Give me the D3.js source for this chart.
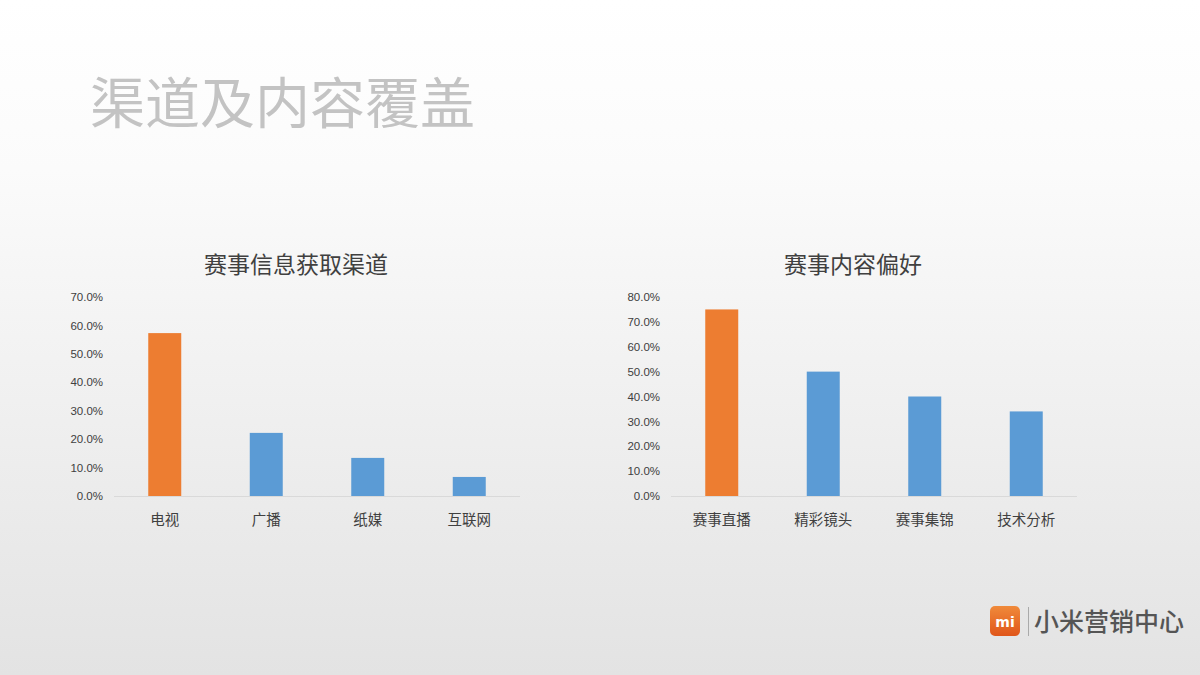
<!DOCTYPE html>
<html><head><meta charset="utf-8">
<script src="https://cdn.jsdelivr.net/npm/d3@7"></script>
<style>html,body{margin:0;padding:0;}svg{display:block;}</style>
</head><body>
<svg id="c" width="1200" height="675"></svg>
<script>
const leftCategories = ["电视","广播","纸媒","互联网"];
const leftValues = [0.573, 0.222, 0.134, 0.067];
const leftTicks = [0,0.1,0.2,0.3,0.4,0.5,0.6,0.7];
const rightCategories = ["赛事直播","精彩镜头","赛事集锦","技术分析"];
const rightValues = [0.75, 0.50, 0.40, 0.34];
const rightTicks = [0,0.1,0.2,0.3,0.4,0.5,0.6,0.7,0.8];
const highlightIndex = 0;

const svg = d3.select("#c");
const FONT = "'Noto Sans CJK SC','Microsoft YaHei',sans-serif";
const defs = svg.append("defs");
const g = defs.append("linearGradient").attr("id","bg").attr("x1",0).attr("y1",0).attr("x2",0).attr("y2",1);
g.append("stop").attr("offset","0").attr("stop-color","#ffffff");
g.append("stop").attr("offset","0.25").attr("stop-color","#fbfbfb");
g.append("stop").attr("offset","1").attr("stop-color","#e3e3e3");
svg.append("rect").attr("width",1200).attr("height",675).attr("fill","url(#bg)");

svg.append("text").attr("x",90).attr("y",123).attr("font-family",FONT).attr("font-size",55)
  .attr("fill","#c3c3c3").text("渠道及内容覆盖");

function chart(opts){
  const {x0,x1,y0,y1,cats,vals,ticks,max,title,titleX,labelX} = opts;
  const x = d3.scaleBand().domain(cats).range([x0,x1]).paddingInner(0.675).paddingOuter(0.3375);
  const y = d3.scaleLinear().domain([0,max]).range([y0,y1]);
  const grp = svg.append("g");
  grp.append("text").attr("x",titleX).attr("y",273).attr("text-anchor","middle")
    .attr("font-family",FONT).attr("font-size",23).attr("fill","#404040").text(title);
  const ya = d3.axisLeft(y).tickValues(ticks).tickFormat(d3.format(".1%")).tickSize(0).tickPadding(0);
  const yg = grp.append("g").attr("transform",`translate(${labelX},0)`).call(ya);
  yg.select(".domain").remove();
  yg.selectAll("text").attr("font-family","'Liberation Sans',Arial,sans-serif").attr("font-size",11.5).attr("fill","#404040");
  grp.selectAll("rect.bar").data(vals).enter().append("rect")
    .attr("x",(d,i)=>x(cats[i])).attr("width",x.bandwidth())
    .attr("y",d=>y(d)).attr("height",d=>y(0)-y(d))
    .attr("fill",(d,i)=>i===highlightIndex?"#ED7D31":"#5B9BD5");
  const xa = d3.axisBottom(x).tickSize(0).tickPadding(19);
  const xg = grp.append("g").attr("transform",`translate(0,${y0})`).call(xa);
  xg.select(".domain").attr("stroke","#d9d9d9").attr("d",`M${x0},0.5H${x1}`);
  xg.selectAll("text").attr("font-family",FONT).attr("font-size",14.5).attr("fill","#404040");
}
chart({x0:114,x1:520,y0:496,y1:297,cats:leftCategories,vals:leftValues,ticks:leftTicks,max:0.7,
  title:"赛事信息获取渠道",titleX:296,labelX:103});
chart({x0:671,x1:1077,y0:496,y1:297,cats:rightCategories,vals:rightValues,ticks:rightTicks,max:0.8,
  title:"赛事内容偏好",titleX:853,labelX:660});

// logo
const lg = svg.append("g");
const og = defs.append("linearGradient").attr("id","og").attr("x1",0).attr("y1",0).attr("x2",0).attr("y2",1);
og.append("stop").attr("offset","0").attr("stop-color","#f08a3a");
og.append("stop").attr("offset","1").attr("stop-color","#e0561a");
lg.append("rect").attr("x",990).attr("y",606).attr("width",30).attr("height",30).attr("rx",5).attr("fill","url(#og)");
lg.append("text").attr("x",1005).attr("y",627).attr("text-anchor","middle").attr("font-family","'DejaVu Sans',sans-serif")
  .attr("font-weight","bold").attr("font-size",14).attr("fill","#fff").text("mi");
lg.append("line").attr("x1",1028.5).attr("x2",1028.5).attr("y1",607).attr("y2",636).attr("stroke","#aaa").attr("stroke-width",1);
lg.append("text").attr("x",1034).attr("y",631).attr("font-family",FONT).attr("font-size",25).attr("font-weight",500)
  .attr("fill","#555").text("小米营销中心");
</script>
</body></html>
